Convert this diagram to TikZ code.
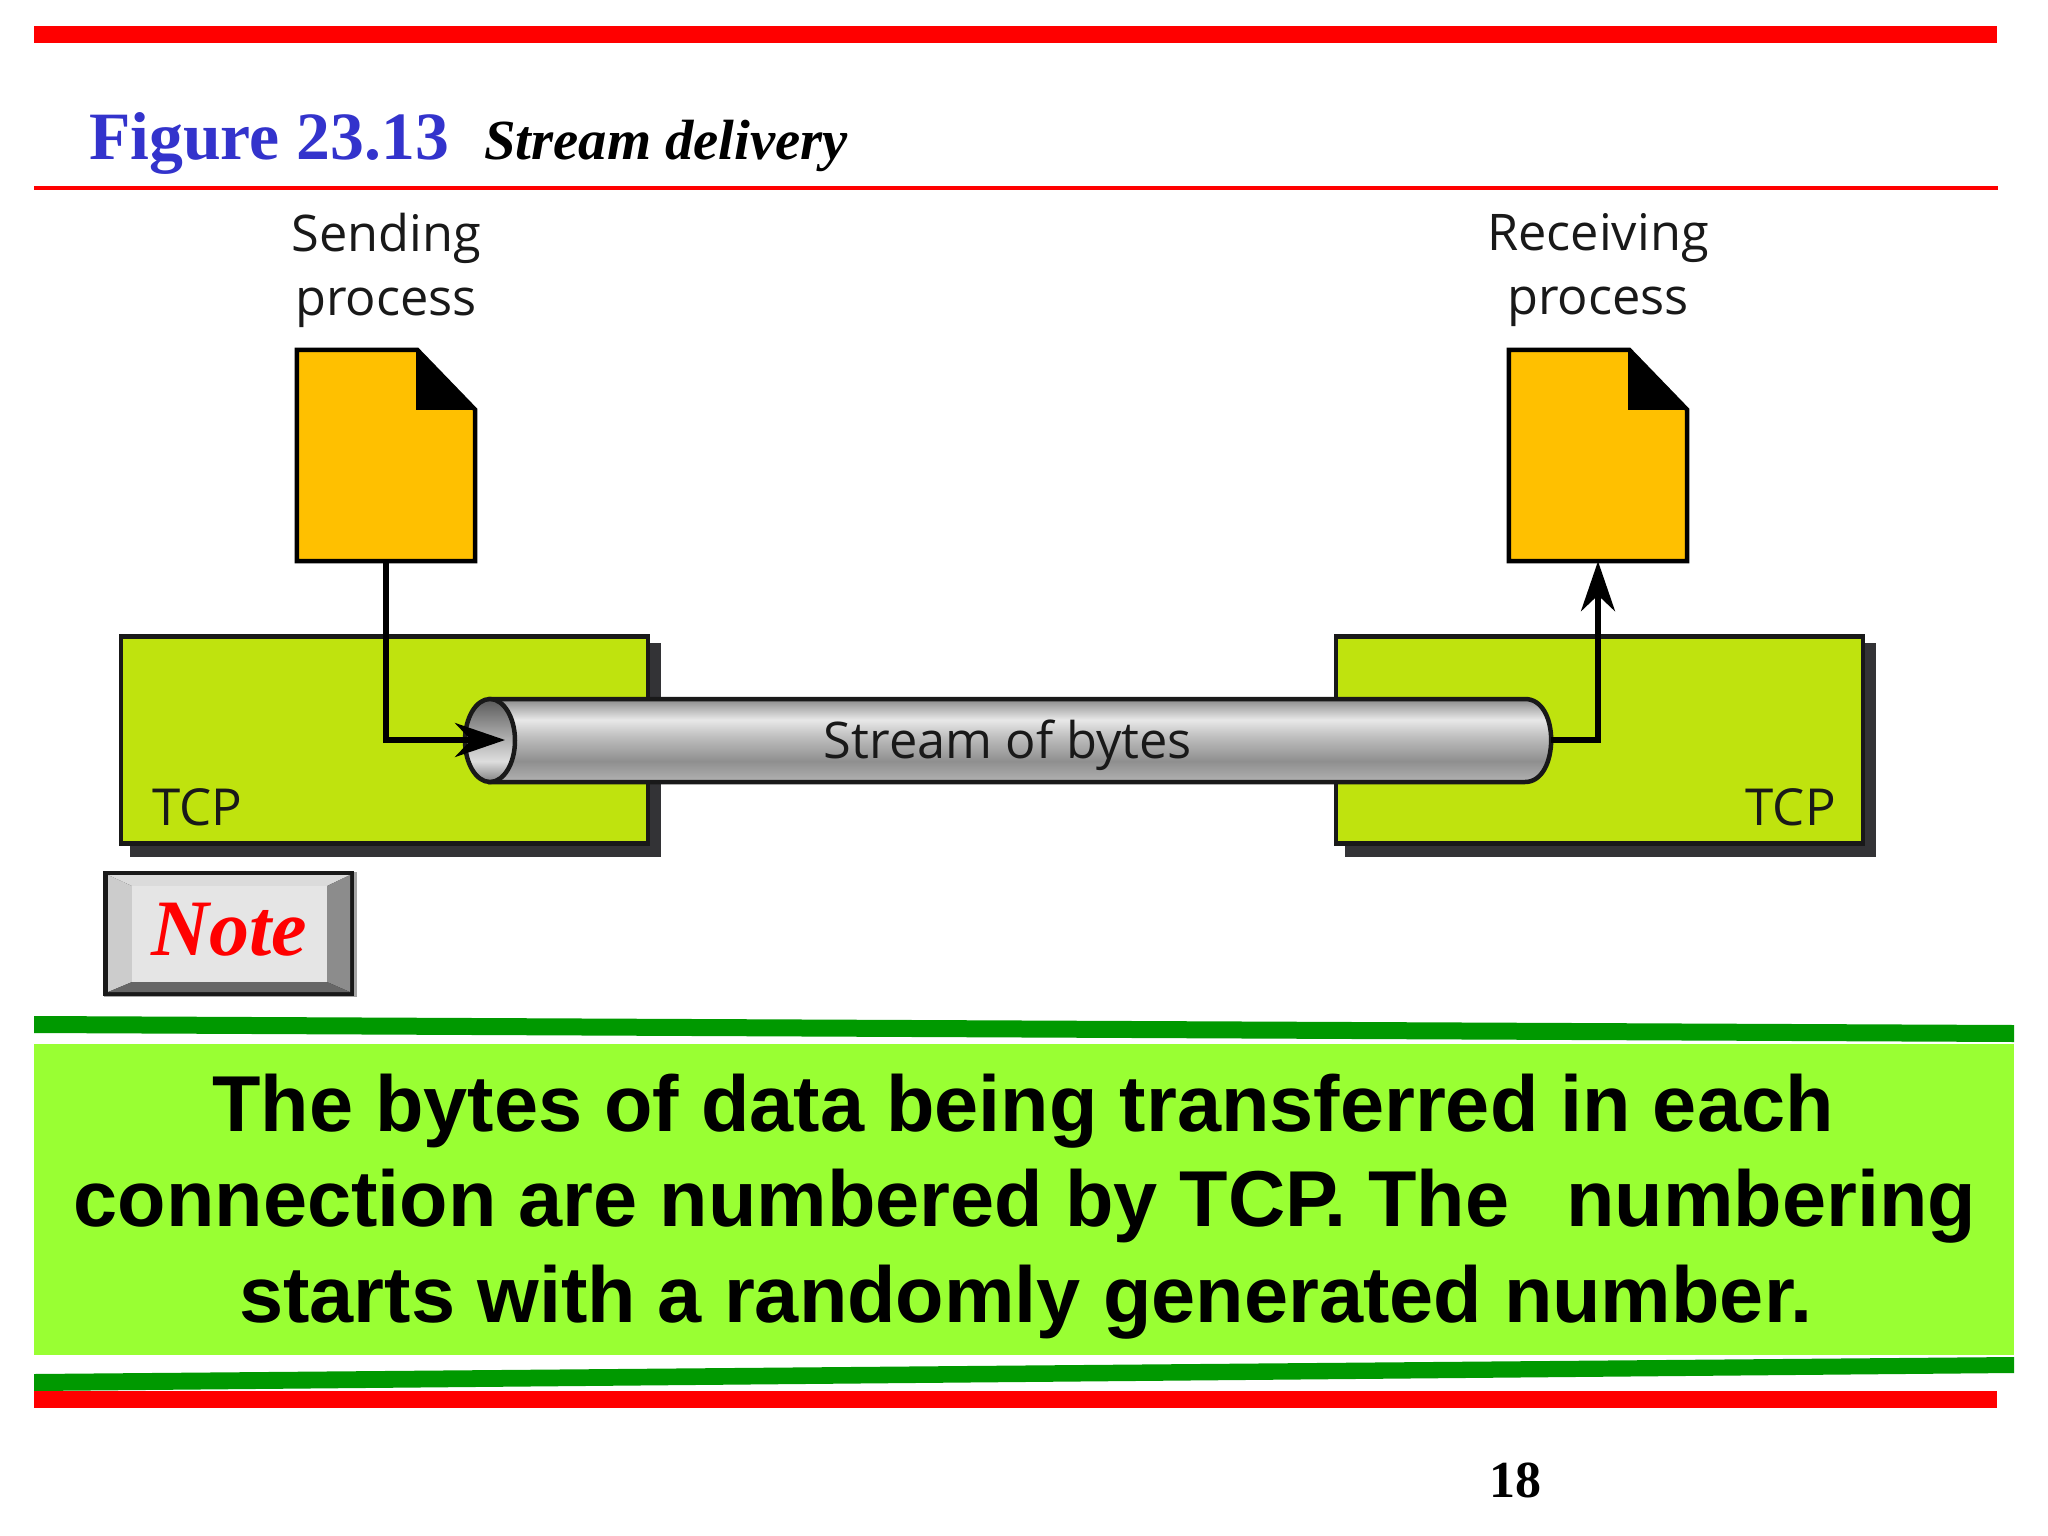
\documentclass[tikz,border=0pt]{standalone}
\usepackage{fontspec}
\setmainfont{Liberation Serif}
\newfontfamily\boldsans{Liberation Sans}[BoldFont={Liberation Sans Bold}]
\newfontfamily\figsans{Open Sans}
\usetikzlibrary{arrows.meta,calc}
\definecolor{barred}{HTML}{FF0000}
\definecolor{bargreen}{HTML}{009900}
\definecolor{notegreen}{HTML}{99FF33}
\definecolor{titleblue}{HTML}{3333CC}
\definecolor{tcpgreen}{HTML}{BFE30E}
\definecolor{docyellow}{HTML}{FFC000}
\definecolor{shadowgrey}{HTML}{333336}
\pgfdeclareverticalshading{tubegrad}{100bp}{
  color(0bp)=(black!48); color(25bp)=(black!30); color(37.5bp)=(black!44);
  color(52.5bp)=(black!25); color(62.5bp)=(black!9); color(70bp)=(black!31);
  color(75bp)=(black!46); color(100bp)=(black!46)}
\pgfdeclareverticalshading{mouthgrad}{100bp}{
  color(0bp)=(black!50); color(25bp)=(black!50); color(37.5bp)=(black!13);
  color(57.5bp)=(black!40); color(75bp)=(black!65); color(100bp)=(black!65)}
\tikzset{
  x=1pt,y=-1pt,
  figtext/.style={font=\figsans\fontsize{50.5}{64}\selectfont,text=black!90,align=center,inner sep=0pt},
  tcplabel/.style={font=\figsans\fontsize{51}{60}\selectfont,text=black!90,inner sep=0pt},
  tcpbox/.style={draw=black!90,line width=4.5pt,fill=tcpgreen,inner sep=0pt,minimum width=527pt,minimum height=207pt},
  shadowbox/.style={fill=shadowgrey,draw=none,inner sep=0pt,minimum width=531pt,minimum height=214pt},
  docframe/.style={inner sep=0pt,minimum width=178pt,minimum height=211pt},
  docpage/.style={draw=black,line width=4.5pt,fill=docyellow,line join=miter},
  wire/.style={draw=black,line width=5.5pt},
  bigtip/.style={-{Stealth[length=50pt,width=34pt,inset=16pt]}},
  bodyline/.style={anchor=base,inner sep=0pt,font=\boldsans\bfseries\fontsize{79.3}{95}\selectfont},
}
\begin{document}
\begin{tikzpicture}
\useasboundingbox (0,0) rectangle (2048,1536);
\fill[white] (0,0) rectangle (2048,1536);
% top rules and title
\fill[barred] (34,26) rectangle (1997,43);
\fill[barred] (34,186) rectangle (1998,190);
\node[anchor=base west,inner sep=0pt,text=titleblue,font=\bfseries\fontsize{67.7}{70}\selectfont] (figno) at (89,160) {Figure 23.13};
\node[anchor=base west,inner sep=0pt,font=\bfseries\itshape\fontsize{56.7}{60}\selectfont] (figtitle) at (484,160) {Stream delivery};
% process labels
\node[figtext] (sendlabel) at (386,270.5) {Sending\\process};
\node[figtext] (recvlabel) at (1598,270.5) {Receiving\\process};
% TCP boxes with shadows
\node[shadowbox] (sshadow) at (395.5,750) {};
\node[shadowbox] (rshadow) at (1610,750) {};
\node[tcpbox] (stcp) at (384.5,740) {};
\node[tcpbox] (rtcp) at (1599.5,740) {};
\node[tcplabel,anchor=base west] (stcplabel) at (152,825) {TCP};
\node[tcplabel,anchor=base east] (rtcplabel) at (1836,825) {TCP};
% documents
\node[docframe] (sdoc) at (386,455.5) {};
\node[docframe] (rdoc) at (1598,455.5) {};
\foreach \d in {sdoc,rdoc}{
  \draw[docpage] (\d.north west) -- ($(\d.north east)+(-58,0)$) -- ($(\d.north east)+(0,60)$) -- (\d.south east) -- (\d.south west) -- cycle;
  \fill[black] ($(\d.north east)+(-59,-1)$) -- ($(\d.north east)+(1,60)$) -- ($(\d.north east)+(-59,60)$) -- cycle;
}
% tube
\node[inner sep=0pt,minimum width=1061pt,minimum height=83pt] (tube) at (1020.5,740) {};
\path[draw=black!90,line width=4.5pt,shade,shading=tubegrad]
  (490,699) -- (1525,699) .. controls (1542,699) and (1551,718) .. (tube.east)
  .. controls (1551,762) and (1542,782) .. (1525,782) -- (490,782) -- cycle;
\path[draw=black!90,line width=4.5pt,shade,shading=mouthgrad] (490,740.5) ellipse [x radius=25,y radius=41.5];
\node[figtext] (tubelabel) at (1008,745) {Stream of bytes};
% connectors
\coordinate (tubein) at (505,740);
\draw[wire,bigtip,line join=miter] (sdoc.south) |- (tubein);
\draw[wire,bigtip,line join=miter] (tube.east) -| (rdoc.south);
% note button
\fill[black!35] (104,872) rectangle (357,997);
\fill[black!90] (103,871) rectangle (354,996);
\fill[black!14] (108,875) -- (350,875) -- (327,886) -- (132,886) -- cycle;
\fill[black!20] (108,875) -- (132,886) -- (132,982) -- (108,992) -- cycle;
\fill[black!45] (350,875) -- (350,992) -- (327,982) -- (327,886) -- cycle;
\fill[black!60] (108,992) -- (132,982) -- (327,982) -- (350,992) -- cycle;
\fill[black!10] (132,886) rectangle (327,982);
\node[anchor=base,inner sep=0pt,text=barred,font=\bfseries\itshape\fontsize{80}{90}\selectfont] (notetext) at (229,955) {Note};
% note panel
\fill[bargreen] (34,1016) -- (2014,1025) -- (2014,1042) -- (34,1033) -- cycle;
\fill[notegreen] (34,1044) rectangle (2014,1355);
\fill[bargreen] (34,1374) -- (2014,1357) -- (2014,1373) -- (34,1391) -- cycle;
\fill[barred] (34,1391) rectangle (1997,1408);
\node[bodyline] (l1) at (1023,1131) {The bytes of data being transferred in each};
\node[bodyline] (l2) at (1025,1226) {connection are numbered by TCP\kern-14pt. The\hspace{57pt}numbering};
\node[bodyline] (l3) at (1026,1322) {starts with a randomly generated number.};
\node[anchor=base,inner sep=0pt,font=\bfseries\fontsize{52}{60}\selectfont] (pageno) at (1515,1497) {18};
\end{tikzpicture}
\end{document}
